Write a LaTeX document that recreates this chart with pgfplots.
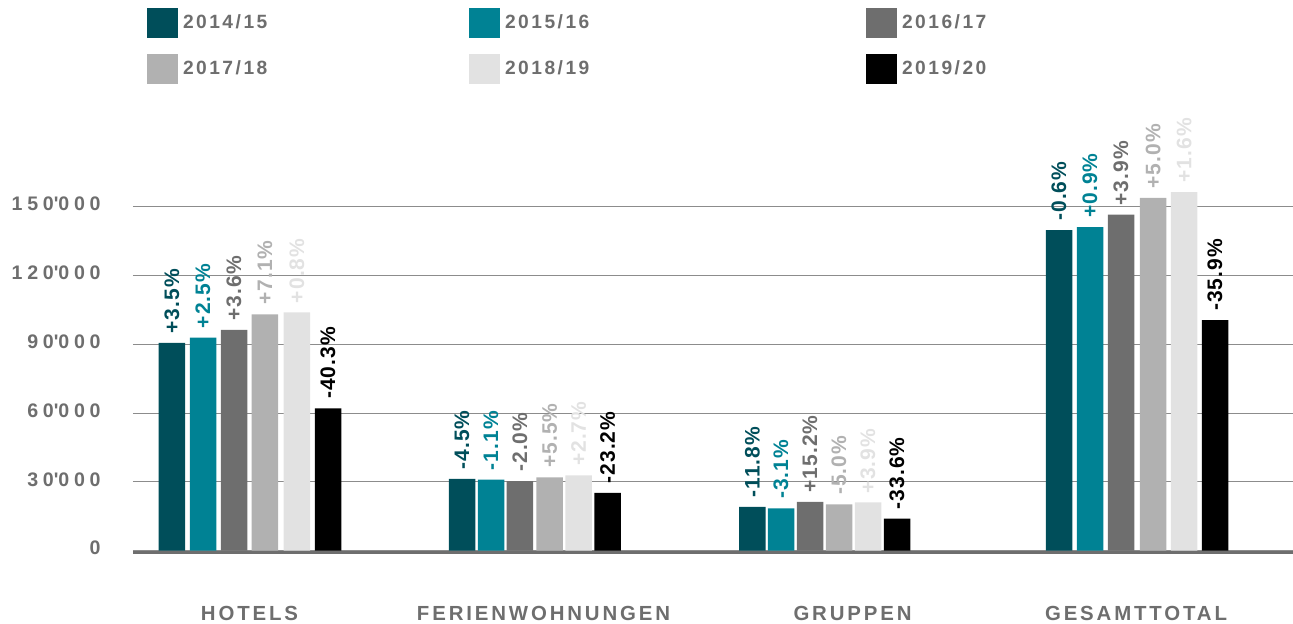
\documentclass[border=0pt]{standalone}
\usepackage{pgfplots}
\pgfplotsset{compat=1.18}
\usepackage{fontspec}
\setmainfont{Liberation Sans}
\newfontfamily\ftick[LetterSpace=24]{Liberation Sans}
\newfontfamily\fleg[LetterSpace=13]{Liberation Sans}
\newfontfamily\fcat[LetterSpace=14]{Liberation Sans}
\newfontfamily\fpct[LetterSpace=5]{Liberation Sans}
\definecolor{cA}{HTML}{004E5A}
\definecolor{cB}{HTML}{008294}
\definecolor{cC}{HTML}{6E6E6E}
\definecolor{cD}{HTML}{B1B1B1}
\definecolor{cE}{HTML}{E2E2E2}
\definecolor{cF}{HTML}{000000}
\definecolor{txt}{HTML}{6E6E6E}
\definecolor{gridc}{HTML}{8C8C8C}
\pgfplotsset{
  lbox/.style={legend image code/.code={\fill[#1] (0pt,-7.5pt) rectangle (15.5pt,7.5pt);}},
  ser/.style={ybar, bar shift=0pt, bar width=13.25pt, fill=#1, draw=none, lbox=#1,
    point meta=explicit symbolic, nodes near coords={\pgfplotspointmeta\%},
    every node near coord/.append style={text=#1, font=\fpct\bfseries\fontsize{10.5}{11}\selectfont,
      rotate=90, anchor=west, inner xsep=4.5pt, inner ysep=0pt}},
}
\begin{document}
\begin{tikzpicture}
\path[use as bounding box] (-66.5pt,-36.15pt) rectangle (580pt,275.35pt);
\begin{axis}[
  at={(0pt,0pt)}, anchor=south west,
  scale only axis, width=580pt, height=194.93pt,
  xmin=133, xmax=1293, ymin=0, ymax=170000,
  axis line style={draw=none},
  major tick length=0pt,
  ytick={0,30000,60000,90000,120000,150000},
  yticklabels={0,30\textquotesingle000,60\textquotesingle000,90\textquotesingle000,120\textquotesingle000,150\textquotesingle000},
  scaled y ticks=false,
  ymajorgrids, major grid style={gridc, line width=0.5pt},
  xtick={249.5,543.5,852.5,1136},
  xticklabels={HOTELS,FERIENWOHNUNGEN,GRUPPEN,GESAMTTOTAL},
  xticklabel style={anchor=base, yshift=-35pt, inner sep=0pt, font=\fcat\bfseries\fontsize{10.2}{12}\selectfont, text=txt},
  yticklabel style={anchor=east, inner sep=0pt, xshift=-16pt, yshift=1.3pt, font=\ftick\bfseries\fontsize{9.8}{11}\selectfont, text=txt},
  clip=false,
  legend columns=3,
  legend cell align=left,
  legend style={at={(0.01207,1.392)}, anchor=north west, draw=none, fill=none, inner sep=0pt, outer sep=0pt,
    row sep=8pt, nodes={inner sep=0pt}, font=\fleg\bfseries\fontsize{9.6}{11}\selectfont, text=txt,
    /tikz/every odd column/.append style={column sep=2.5pt}},
  after end axis/.code={\draw[txt, line width=1.5pt, yshift=-0.75pt] (rel axis cs:0,0) -- (rel axis cs:1,0);},
]
\addplot[ser=cA] coordinates {(171.8,90600)[+3.5] (462,31300)[-4.5] (752.3,19100)[-11.8] (1059,139800)[-0.6]};
\addlegendentry{\makebox[143pt][l]{2014/15}}
\addplot[ser=cB] coordinates {(203,92900)[+2.5] (491,30950)[-1.1] (781,18500)[-3.1] (1090,141100)[+0.9]};
\addlegendentry{\makebox[180.5pt][l]{2015/16}}
\addplot[ser=cC] coordinates {(234,96300)[+3.6] (519.8,30330)[-2.0] (810,21300)[+15.2] (1121,146500)[+3.9]};
\addlegendentry{2016/17}
\addplot[ser=cD] coordinates {(264.8,103100)[+7.1] (549.7,32000)[+5.5] (839,20240)[-5.0] (1153,153900)[+5.0]};
\addlegendentry{\makebox[143pt][l]{2017/18}}
\addplot[ser=cE] coordinates {(296.8,103900)[+0.8] (578.7,32860)[+2.7] (868,21030)[+3.9] (1184,156400)[+1.6]};
\addlegendentry{\makebox[180.5pt][l]{2018/19}}
\addplot[ser=cF] coordinates {(328,62100)[-40.3] (607.7,25240)[-23.2] (897,13960)[-33.6] (1215,100500)[-35.9]};
\addlegendentry{2019/20}
\end{axis}
\end{tikzpicture}
\end{document}
